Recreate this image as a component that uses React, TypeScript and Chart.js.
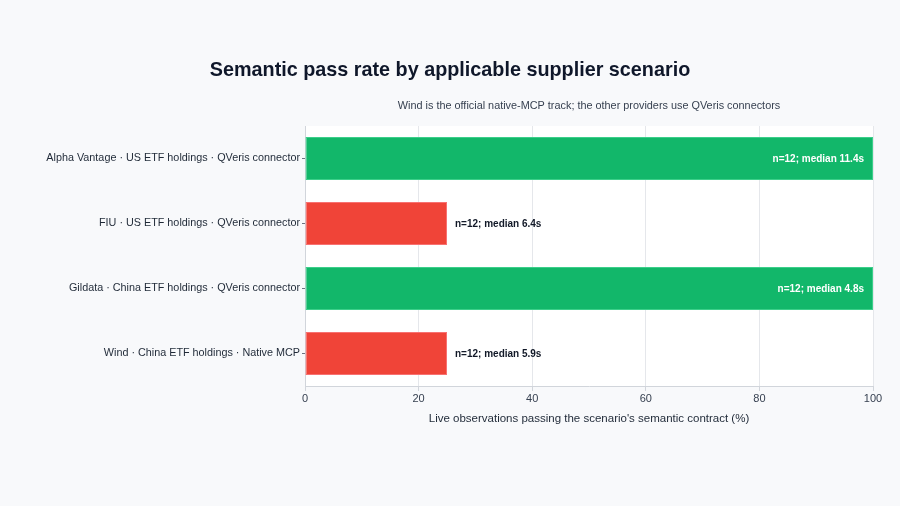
import React, { useEffect, useRef } from "react";
import { Chart, registerables } from "chart.js";

Chart.register(...registerables);

const categories = [
  "Alpha Vantage · US ETF holdings · QVeris connector",
  "FIU · US ETF holdings · QVeris connector",
  "Gildata · China ETF holdings · QVeris connector",
  "Wind · China ETF holdings · Native MCP",
];
const passRates = [100, 25, 100, 25];
const barLabels = [
  "n=12; median 11.4s",
  "n=12; median 6.4s",
  "n=12; median 4.8s",
  "n=12; median 5.9s",
];
const xTicks = [0, 20, 40, 60, 80, 100];

const FONT = "'Liberation Sans', Arial, Helvetica, sans-serif";
const GREEN = "#12b76a";
const RED = "#f04438";

const labelPlugin = {
  id: "barLabels",
  afterDatasetsDraw(chart: any) {
    const ctx = chart.ctx;
    const meta = chart.getDatasetMeta(0);
    ctx.save();
    ctx.font = `bold 10px ${FONT}`;
    ctx.textBaseline = "middle";
    meta.data.forEach((bar: any, i: number) => {
      const v = passRates[i];
      if (v >= 60) {
        ctx.fillStyle = "#ffffff";
        ctx.textAlign = "right";
        ctx.fillText(barLabels[i], bar.x - 9, bar.y + 0.5);
      } else {
        ctx.fillStyle = "#111827";
        ctx.textAlign = "left";
        ctx.fillText(barLabels[i], bar.x + 8, bar.y + 0.5);
      }
    });
    ctx.restore();
  },
};

const headerPlugin = {
  id: "header",
  beforeDraw(chart: any) {
    const ctx = chart.ctx;
    const area = chart.chartArea;
    ctx.save();
    ctx.fillStyle = "#f8f9fb";
    ctx.fillRect(0, 0, chart.width, chart.height);
    ctx.fillStyle = "#ffffff";
    ctx.fillRect(area.left, area.top, area.right - area.left, area.bottom - area.top);
    ctx.textAlign = "center";
    ctx.textBaseline = "middle";
    ctx.fillStyle = "#0f172a";
    ctx.font = `bold 19.8px ${FONT}`;
    ctx.fillText("Semantic pass rate by applicable supplier scenario", 450, 71);
    ctx.fillStyle = "#374151";
    ctx.font = `10.86px ${FONT}`;
    ctx.fillText(
      "Wind is the official native-MCP track; the other providers use QVeris connectors",
      (area.left + area.right) / 2,
      106
    );
    ctx.restore();
  },
};

export default function App() {
  const ref = useRef<HTMLCanvasElement>(null);
  useEffect(() => {
    if (!ref.current) return;
    const chart = new Chart(ref.current, {
      type: "bar",
      data: {
        labels: categories,
        datasets: [
          {
            data: passRates,
            backgroundColor: passRates.map((v) => (v >= 60 ? GREEN : RED)),
            borderColor: passRates.map((v) => (v >= 60 ? "#3ccf8a" : "#f87171")),
            borderWidth: 1,
            borderSkipped: false,
            barPercentage: 0.825,
            categoryPercentage: 0.8,
          },
        ],
      },
      options: {
        indexAxis: "y",
        animation: false,
        responsive: false,
        maintainAspectRatio: false,
        layout: { padding: { top: 126, right: 27, bottom: 70, left: 0 } },
        plugins: {
          legend: { display: false },
          title: { display: false },
          tooltip: { enabled: false },
        },
        scales: {
          x: {
            min: 0,
            max: 100,
            afterBuildTicks(scale: any) {
              scale.ticks = xTicks.map((v) => ({ value: v }));
            },
            afterFit(scale: any) {
              scale.height = 50;
            },
            grid: { color: "#e5e7eb", drawTicks: true, tickLength: 5, tickColor: "#d1d5db" },
            border: { color: "#d1d5db" },
            ticks: { color: "#374151", font: { family: FONT, size: 11 }, padding: 1 },
            title: {
              display: true,
              text: "Live observations passing the scenario's semantic contract (%)",
              color: "#1f2937",
              font: { family: FONT, size: 11.5 },
              padding: { top: 6, bottom: 10 },
            },
          },
          y: {
            afterFit(scale: any) {
              scale.width = 305;
            },
            grid: {
              offset: false,
              drawOnChartArea: false,
              drawTicks: true,
              tickLength: 3,
              tickColor: "#6b7280",
            },
            border: { color: "#d1d5db" },
            ticks: { color: "#1f2937", font: { family: FONT, size: 10.8 }, padding: 2 },
          },
        },
      },
      plugins: [headerPlugin, labelPlugin],
    });
    return () => chart.destroy();
  }, []);
  return (
    <div style={{ position: "fixed", left: 0, top: 0, width: 900, height: 506, background: "#f8f9fb" }}>
      <canvas ref={ref} width={900} height={506} style={{ width: 900, height: 506, display: "block" }} />
    </div>
  );
}
